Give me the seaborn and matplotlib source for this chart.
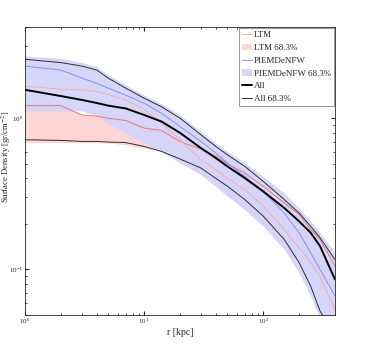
import numpy as np
import matplotlib
matplotlib.use('Agg')
import matplotlib.pyplot as plt
import seaborn as sns

# Radios (kpc)
r = [1, 2, 3, 4, 5, 7, 10, 14, 20, 30, 40, 50, 70, 100, 150, 200, 250, 300, 400]

# LTM
ltm = [1.63, 1.55, 1.54, 1.50, 1.43, 1.32, 1.14, 0.93, 0.72, 0.53, 0.456, 0.402, 0.337,
       0.262, 0.184, 0.139, 0.111, 0.090, 0.0545]
ltm_hi = [1.21, 1.21, 1.05, 1.03, 1.00, 0.965, 0.86, 0.83, 0.70, 0.625, 0.559, 0.50, 0.434,
          0.355, 0.275, 0.231, 0.184, 0.158, 0.105]
ltm_lo = [0.69, 0.69, 0.69, 0.69, 0.684, 0.667, 0.634, 0.612, 0.531, 0.434, 0.363, 0.312,
          0.249, 0.193, 0.1425, 0.111, 0.086, 0.070, 0.049]

# PIEMDeNFW
nfw = [2.21, 2.08, 1.84, 1.70, 1.58, 1.42, 1.256, 1.079, 0.881, 0.702, 0.588, 0.505, 0.412,
       0.328, 0.236, 0.175, 0.129, 0.100, 0.0667]
nfw_hi = [2.58, 2.49, 2.33, 2.19, 1.93, 1.66, 1.42, 1.24, 1.05, 0.817, 0.684, 0.603, 0.505,
          0.412, 0.32, 0.255, 0.208, 0.175, 0.129]
nfw_lo = [1.12, 1.12, 1.12, 1.03, 0.927, 0.796, 0.684, 0.603, 0.505, 0.423, 0.355, 0.305,
          0.249, 0.193, 0.1355, 0.095, 0.0667, 0.0468, 0.0297]

# All
all_med = [1.54, 1.40, 1.32, 1.26, 1.21, 1.16, 1.05, 0.95, 0.80, 0.634, 0.545, 0.48, 0.402,
           0.328, 0.255, 0.208, 0.175, 0.1425, 0.086]
all_hi = [2.45, 2.33, 2.21, 2.08, 1.84, 1.58, 1.355, 1.19, 1.0, 0.776, 0.65, 0.573, 0.48,
          0.382, 0.29, 0.236, 0.193, 0.162, 0.116]
all_lo = [0.72, 0.713, 0.702, 0.702, 0.695, 0.69, 0.65, 0.603, 0.537, 0.468, 0.40, 0.355,
          0.29, 0.225, 0.158, 0.111, 0.0777, 0.0531, 0.0363]

sns.set_style('ticks')
plt.rcParams['font.family'] = ['Liberation Serif', 'DejaVu Serif']
plt.rcParams['mathtext.fontset'] = 'stix'

fig = plt.figure(figsize=(3.73, 3.55), dpi=100)
ax = fig.add_axes([0.067, 0.1127, 0.831, 0.811])

c_red_fill = '#ffd6d6'
c_blue_fill = '#d4d4fa'

ax.fill_between(r, ltm_lo, ltm_hi, color=c_red_fill, lw=0, label='LTM 68.3%')
ax.fill_between(r, nfw_lo, nfw_hi, color=c_blue_fill, lw=0, alpha=0.95,
                label='PIEMDeNFW 68.3%')
sns.lineplot(x=r, y=ltm_hi, ax=ax, color='#e87878', lw=0.7)
sns.lineplot(x=r, y=ltm, ax=ax, color='#f2b0b0', lw=0.7, label='LTM')
sns.lineplot(x=r, y=nfw, ax=ax, color='#8c8cf0', lw=0.7, label='PIEMDeNFW')
sns.lineplot(x=r, y=all_med, ax=ax, color='black', lw=1.4, label='All')
sns.lineplot(x=r, y=all_hi, ax=ax, color='#303030', lw=0.7, label='All 68.3%')
sns.lineplot(x=r, y=all_lo, ax=ax, color='#303030', lw=0.7)

ax.set_xscale('log')
ax.set_yscale('log')
ax.set_xlim(1, 400)
ax.set_ylim(0.05, 4)
ax.set_xlabel('r [kpc]', fontsize=7, labelpad=1)
ax.set_ylabel('Surface Density [gr/cm$^{-2}$]', fontsize=6.2)
ax.yaxis.set_label_coords(-0.04, 0.55)
ax.tick_params(which='both', direction='in', top=True, right=True, labelsize=5, pad=1.5)
ax.tick_params(which='major', length=3)
ax.tick_params(which='minor', length=1.5)
for s in ax.spines.values():
    s.set_linewidth(0.6)

h, l = ax.get_legend_handles_labels()
order = ['LTM', 'LTM 68.3%', 'PIEMDeNFW', 'PIEMDeNFW 68.3%', 'All', 'All 68.3%']
hd = dict(zip(l, h))
leg = ax.legend([hd[k] for k in order], order, loc='upper right', fontsize=6.5,
                frameon=True, fancybox=False, framealpha=1, edgecolor='#888888',
                handlelength=1.2, handletextpad=0.2, borderaxespad=0.1,
                labelspacing=0.5, borderpad=0.3)
leg.get_frame().set_linewidth(0.6)

fig.savefig('out.png', dpi=100)
